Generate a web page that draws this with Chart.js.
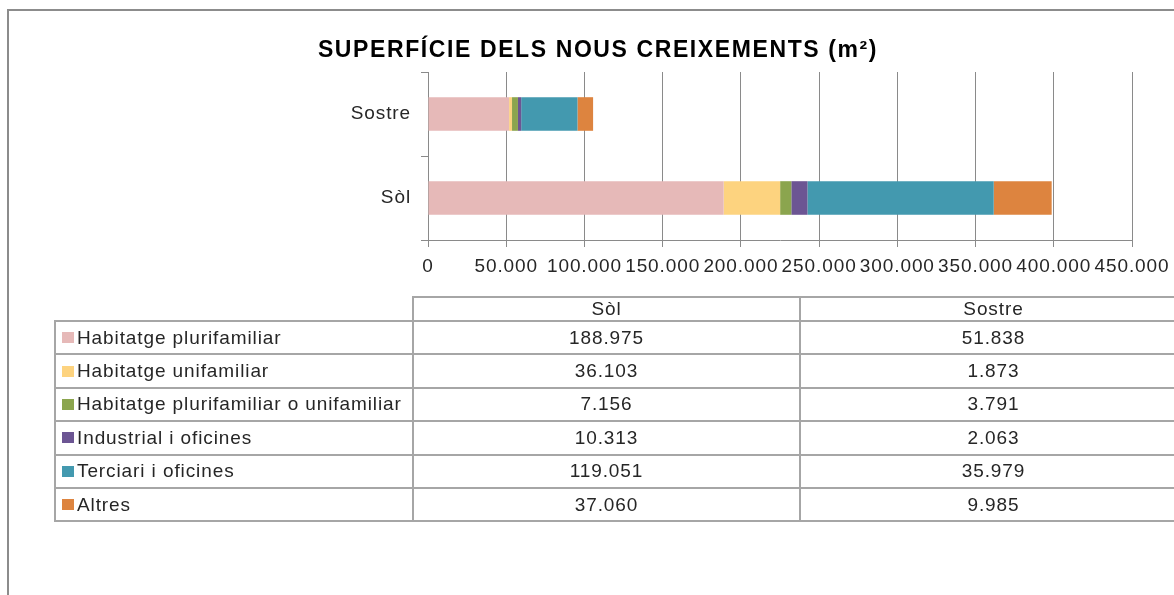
<!DOCTYPE html>
<html>
<head>
<meta charset="utf-8">
<script src="https://cdn.jsdelivr.net/npm/chart.js@4/dist/chart.umd.min.js"></script>
<style>
  html, body { margin: 0; padding: 0; background: #fff; overflow: hidden; }
  body { width: 1174px; height: 595px; position: relative; font-family: "Liberation Sans", Arial, sans-serif; }
  #frame { position: absolute; left: 7px; top: 9px; width: 1300px; height: 700px; border: 2px solid #8c8c8c; box-sizing: border-box; }
  #titol { position: absolute; left: 0; top: 36px; width: 1196px; text-align: center; font-weight: bold; font-size: 23px; line-height: 26px; letter-spacing: 1.6px; color: #000; white-space: nowrap; }
  #wrap { position: absolute; left: 0; top: 0; width: 1174px; height: 290px; }
  #taula { position: absolute; left: 0; top: 0; width: 1174px; height: 595px; }
  .hl, .vl { position: absolute; background: #a6a6a6; }
  .cell { position: absolute; font-size: 19px; letter-spacing: 0.9px; color: #262626; white-space: nowrap; display: flex; align-items: center; }
  .sw { display: inline-block; width: 12px; height: 11px; margin-right: 3px; }
</style>
</head>
<body>
<div id="frame"></div>
<div id="wrap"><canvas id="barres" width="1174" height="290"></canvas></div>
<div id="titol">SUPERFÍCIE DELS NOUS CREIXEMENTS (m²)</div>
<div id="taula"></div>
<script>
// superfície en m2 per ús, sòl i sostre
const categories = ['Sòl', 'Sostre'];
const usos = [
    'Habitatge plurifamiliar',
    'Habitatge unifamiliar',
    'Habitatge plurifamiliar o unifamiliar',
    'Industrial i oficines',
    'Terciari i oficines',
    'Altres'
];
const solValues = [188975, 36103, 7156, 10313, 119051, 37060];
const sostreValues = [51838, 1873, 3791, 2063, 35979, 9985];
const colors = ['#e6b9b8', '#fdd37f', '#8ba54e', '#6c5593', '#4399af', '#dd843f'];
const xMax = 450000;
const xStep = 50000;

function punts(v) {
    return String(v).replace(/\B(?=(\d{3})+(?!\d))/g, '.');
}

Chart.defaults.font.family = '"Liberation Sans", Arial, sans-serif';
Chart.defaults.font.size = 19;
Chart.defaults.color = '#262626';

// espaiat entre lletres com el de l'Excel
const espaiat = {
    id: 'espaiat',
    beforeLayout(chart) { chart.ctx.letterSpacing = '0.9px'; },
    beforeDraw(chart) { chart.ctx.letterSpacing = '0.9px'; }
};

const ctx = document.getElementById('barres').getContext('2d');
const barres = new Chart(ctx, {
    type: 'bar',
    data: {
        labels: categories,
        datasets: usos.map((nom, i) => ({
            label: nom,
            data: [solValues[i], sostreValues[i]],
            backgroundColor: colors[i],
            borderWidth: 0,
            categoryPercentage: 1,
            barPercentage: 0.4
        }))
    },
    options: {
        indexAxis: 'y',
        responsive: false,
        animation: false,
        layout: { padding: { left: 0, right: 42, top: 72, bottom: 0 } },
        plugins: {
            legend: { display: false },
            tooltip: { enabled: false },
            title: { display: false }
        },
        scales: {
            x: {
                stacked: true,
                min: 0,
                max: xMax,
                afterFit(s) {
                    s.height = 50;
                    s.paddingLeft = 0;
                    s.paddingRight = 0;
                },
                ticks: {
                    stepSize: xStep,
                    padding: 8,
                    maxRotation: 0,
                    autoSkip: false,
                    callback: v => punts(v)
                },
                grid: { color: '#8a8a8a', tickLength: 7, tickColor: '#8a8a8a' },
                border: { color: '#8a8a8a' }
            },
            y: {
                stacked: true,
                reverse: true,
                afterFit(s) { s.width = 428; },
                ticks: { padding: 10 },
                grid: { offset: true, drawOnChartArea: false, tickLength: 7, color: '#8a8a8a' },
                border: { color: '#8a8a8a' }
            }
        }
    },
    plugins: [espaiat]
});

// taula de dades sota el gràfic
const taula = document.getElementById('taula');
const colX = [55, 413, 800, 1187];
const headTop = 297;
const rowTop = 321;
const rowH = 33.4;
const lineW = 2;

function linia(cls, x, y, w, h) {
    const d = document.createElement('div');
    d.className = cls;
    d.style.left = x + 'px';
    d.style.top = y + 'px';
    d.style.width = w + 'px';
    d.style.height = h + 'px';
    taula.appendChild(d);
}
function cella(x, y, w, h, html, centre) {
    const d = document.createElement('div');
    d.className = 'cell';
    d.style.left = x + 'px';
    d.style.top = y + 'px';
    d.style.width = w + 'px';
    d.style.height = h + 'px';
    d.style.justifyContent = centre ? 'center' : 'flex-start';
    d.innerHTML = html;
    taula.appendChild(d);
}

const bottom = rowTop + usos.length * rowH;
linia('hl', colX[1], headTop - 1, 1174 - colX[1], lineW);
for (let i = 0; i <= usos.length; i++) {
    linia('hl', colX[0], rowTop + i * rowH - 1, 1174 - colX[0], lineW);
}
linia('vl', colX[0] - 1, rowTop - 1, lineW, bottom - rowTop + 2);
linia('vl', colX[1] - 1, headTop - 1, lineW, bottom - headTop + 2);
linia('vl', colX[2] - 1, headTop - 1, lineW, bottom - headTop + 2);

cella(colX[1], headTop, colX[2] - colX[1], rowTop - headTop, categories[0], true);
cella(colX[2], headTop, colX[3] - colX[2], rowTop - headTop, categories[1], true);
usos.forEach((nom, i) => {
    const y = rowTop + i * rowH;
    cella(colX[0] + 7, y, colX[1] - colX[0] - 7, rowH,
        '<span class="sw" style="background:' + colors[i] + '"></span>' + nom, false);
    cella(colX[1], y, colX[2] - colX[1], rowH, punts(solValues[i]), true);
    cella(colX[2], y, colX[3] - colX[2], rowH, punts(sostreValues[i]), true);
});
</script>
</body>
</html>
